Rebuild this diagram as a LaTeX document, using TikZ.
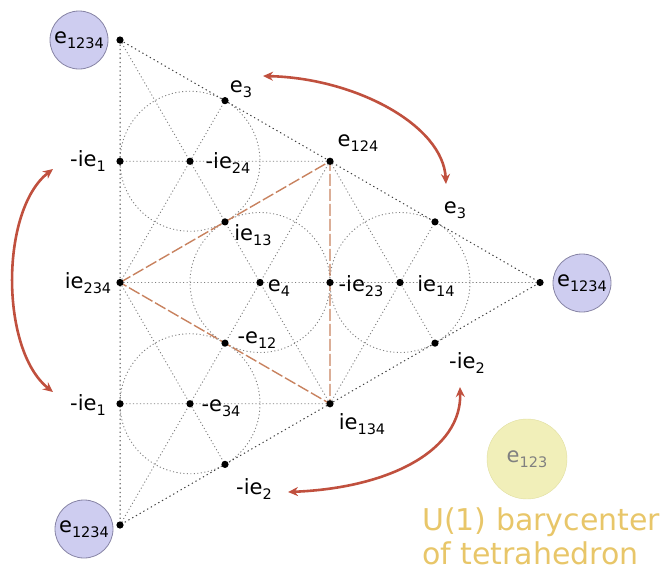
\documentclass[tikz,border=0pt]{standalone}
\usepackage{fontspec}
\setmainfont{DejaVu Sans}
\usetikzlibrary{calc,arrows.meta}
\definecolor{arrred}{RGB}{192,80,62}
\definecolor{medialorange}{RGB}{200,130,95}
\definecolor{lilac}{RGB}{206,205,240}
\definecolor{lilacedge}{RGB}{135,132,165}
\definecolor{paleyellow}{RGB}{241,239,185}
\definecolor{yellowedge}{RGB}{224,222,160}
\definecolor{goldtext}{RGB}{232,198,105}
\newcommand\sbs[1]{\raisebox{-5pt}{\fontsize{14.5}{15}\selectfont #1}}
\tikzset{
  lbl/.style={font=\fontsize{21}{24}\selectfont, inner sep=0pt},
  outerline/.style={draw=black!75, line width=1pt, dash pattern=on 1.3pt off 3pt},
  innerline/.style={draw=black!50, line width=0.9pt, dash pattern=on 1.1pt off 2.4pt},
  medial/.style={draw=medialorange, line width=1.4pt, dash pattern=on 12pt off 3pt},
  swap/.style={draw=arrred, line width=2.6pt, {Stealth[length=10pt,width=9pt]}-{Stealth[length=10pt,width=9pt]}},
  unitball/.style={circle, draw=lilacedge, fill=lilac, line width=0.8pt, minimum size=58pt, inner sep=0pt, font=\fontsize{21}{24}\selectfont},
}
\begin{document}
\begin{tikzpicture}[x=1pt, y=-1pt]
  \useasboundingbox (0,0) rectangle (664,571);
  % big triangle
  \coordinate (A) at (120,40);
  \coordinate (B) at (120,525);
  \coordinate (C) at (540,282.5);
  % midpoints of the sides
  \coordinate (ie234) at ($(A)!0.5!(B)$);
  \coordinate (e124) at ($(A)!0.5!(C)$);
  \coordinate (ie134) at ($(B)!0.5!(C)$);
  \coordinate (e3a) at ($(A)!0.5!(e124)$);
  \coordinate (e3b) at ($(e124)!0.5!(C)$);
  \coordinate (ie1a) at ($(A)!0.5!(ie234)$);
  \coordinate (ie1b) at ($(ie234)!0.5!(B)$);
  \coordinate (ie2a) at ($(B)!0.5!(ie134)$);
  \coordinate (ie2b) at ($(ie134)!0.5!(C)$);
  \coordinate (ie13) at ($(ie234)!0.5!(e124)$);
  \coordinate (e12) at ($(ie234)!0.5!(ie134)$);
  \coordinate (ie23) at ($(e124)!0.5!(ie134)$);
  % centres of the four small triangles
  \coordinate (ie24) at ($(A)!2/3!(ie13)$);
  \coordinate (e4) at ($(ie234)!2/3!(ie23)$);
  \coordinate (ie14) at ($(C)!2/3!(ie23)$);
  \coordinate (e34) at ($(B)!2/3!(e12)$);

  % incircles
  \foreach \c in {ie24,e4,ie14,e34}
    \draw[innerline] (\c) circle (70);

  % medians of the small triangles
  \draw[innerline] (A) -- (ie13) (ie234) -- (e3a) (e124) -- (ie1a);
  \draw[innerline] (ie234) -- (ie23) (e124) -- (e12) (ie134) -- (ie13);
  \draw[innerline] (C) -- (ie23) (e124) -- (ie2b) (ie134) -- (e3b);
  \draw[innerline] (B) -- (e12) (ie234) -- (ie2a) (ie134) -- (ie1b);

  \draw[outerline] (A) -- (C) -- (B) -- cycle;
  \draw[medial] (ie234) -- (e124) -- (ie134) -- cycle;

  % points
  \foreach \p in {A,B,C,ie234,e124,ie134,e3a,e3b,ie1a,ie1b,ie2a,ie2b,ie13,e12,ie23,ie24,e4,ie14,e34}
    \fill (\p) circle (3.6);

  % labels
  \node[lbl] (l-e3a) at (241,89) {e\sbs{3}};
  \node[lbl] (l-ie1a) at (88,161) {-ie\sbs{1}};
  \node[lbl] (l-ie24) at (228,163) {-ie\sbs{24}};
  \node[lbl] (l-e124) at (358,143) {e\sbs{124}};
  \node[lbl] (l-ie13) at (253,235) {ie\sbs{13}};
  \node[lbl] (l-e3b) at (455,210) {e\sbs{3}};
  \node[lbl] (l-ie234) at (88,283) {ie\sbs{234}};
  \node[lbl] (l-e4) at (279,288) {e\sbs{4}};
  \node[lbl] (l-ie23) at (361,286) {-ie\sbs{23}};
  \node[lbl] (l-ie14) at (436,286) {ie\sbs{14}};
  \node[lbl] (l-e12) at (257,340) {-e\sbs{12}};
  \node[lbl] (l-ie2b) at (467,363) {-ie\sbs{2}};
  \node[lbl] (l-ie1b) at (88,405) {-ie\sbs{1}};
  \node[lbl] (l-e34) at (221,408) {-e\sbs{34}};
  \node[lbl] (l-ie134) at (362,424) {ie\sbs{134}};
  \node[lbl] (l-ie2a) at (254,489) {-ie\sbs{2}};

  % the three copies of e1234
  \node[unitball] (u1) at (79,40) {e\sbs{1234}};
  \node[unitball] (u2) at (582,283) {e\sbs{1234}};
  \node[unitball] (u3) at (84,529) {e\sbs{1234}};

  % barycenter
  \node[circle, draw=yellowedge, fill=paleyellow, minimum size=80pt, inner sep=0pt,
        font=\fontsize{21}{24}\selectfont, text=black!50] (bc) at (527,459) {e\sbs{123}};
  \node[anchor=base west, inner sep=0pt, font=\fontsize{30}{34}\selectfont, text=goldtext]
    (bary1) at (422,530) {U(1) barycenter};
  \node[anchor=base west, inner sep=0pt, font=\fontsize{30}{34}\selectfont, text=goldtext]
    (bary2) at (422,564) {of tetrahedron};

  % swaps
  \coordinate (s1) at (263,76);
  \coordinate (s2) at (446,184);
  \coordinate (s3) at (53,169);
  \coordinate (s4) at (53,392);
  \coordinate (s5) at (460,387);
  \coordinate (s6) at (288,492);
  \draw[swap] (s1) .. controls (355,78) and (443,125) .. (s2);
  \draw[swap] (s3) .. controls (0,210) and (0,350) .. (s4);
  \draw[swap] (s6) .. controls (390,488) and (462,450) .. (s5);
\end{tikzpicture}
\end{document}
